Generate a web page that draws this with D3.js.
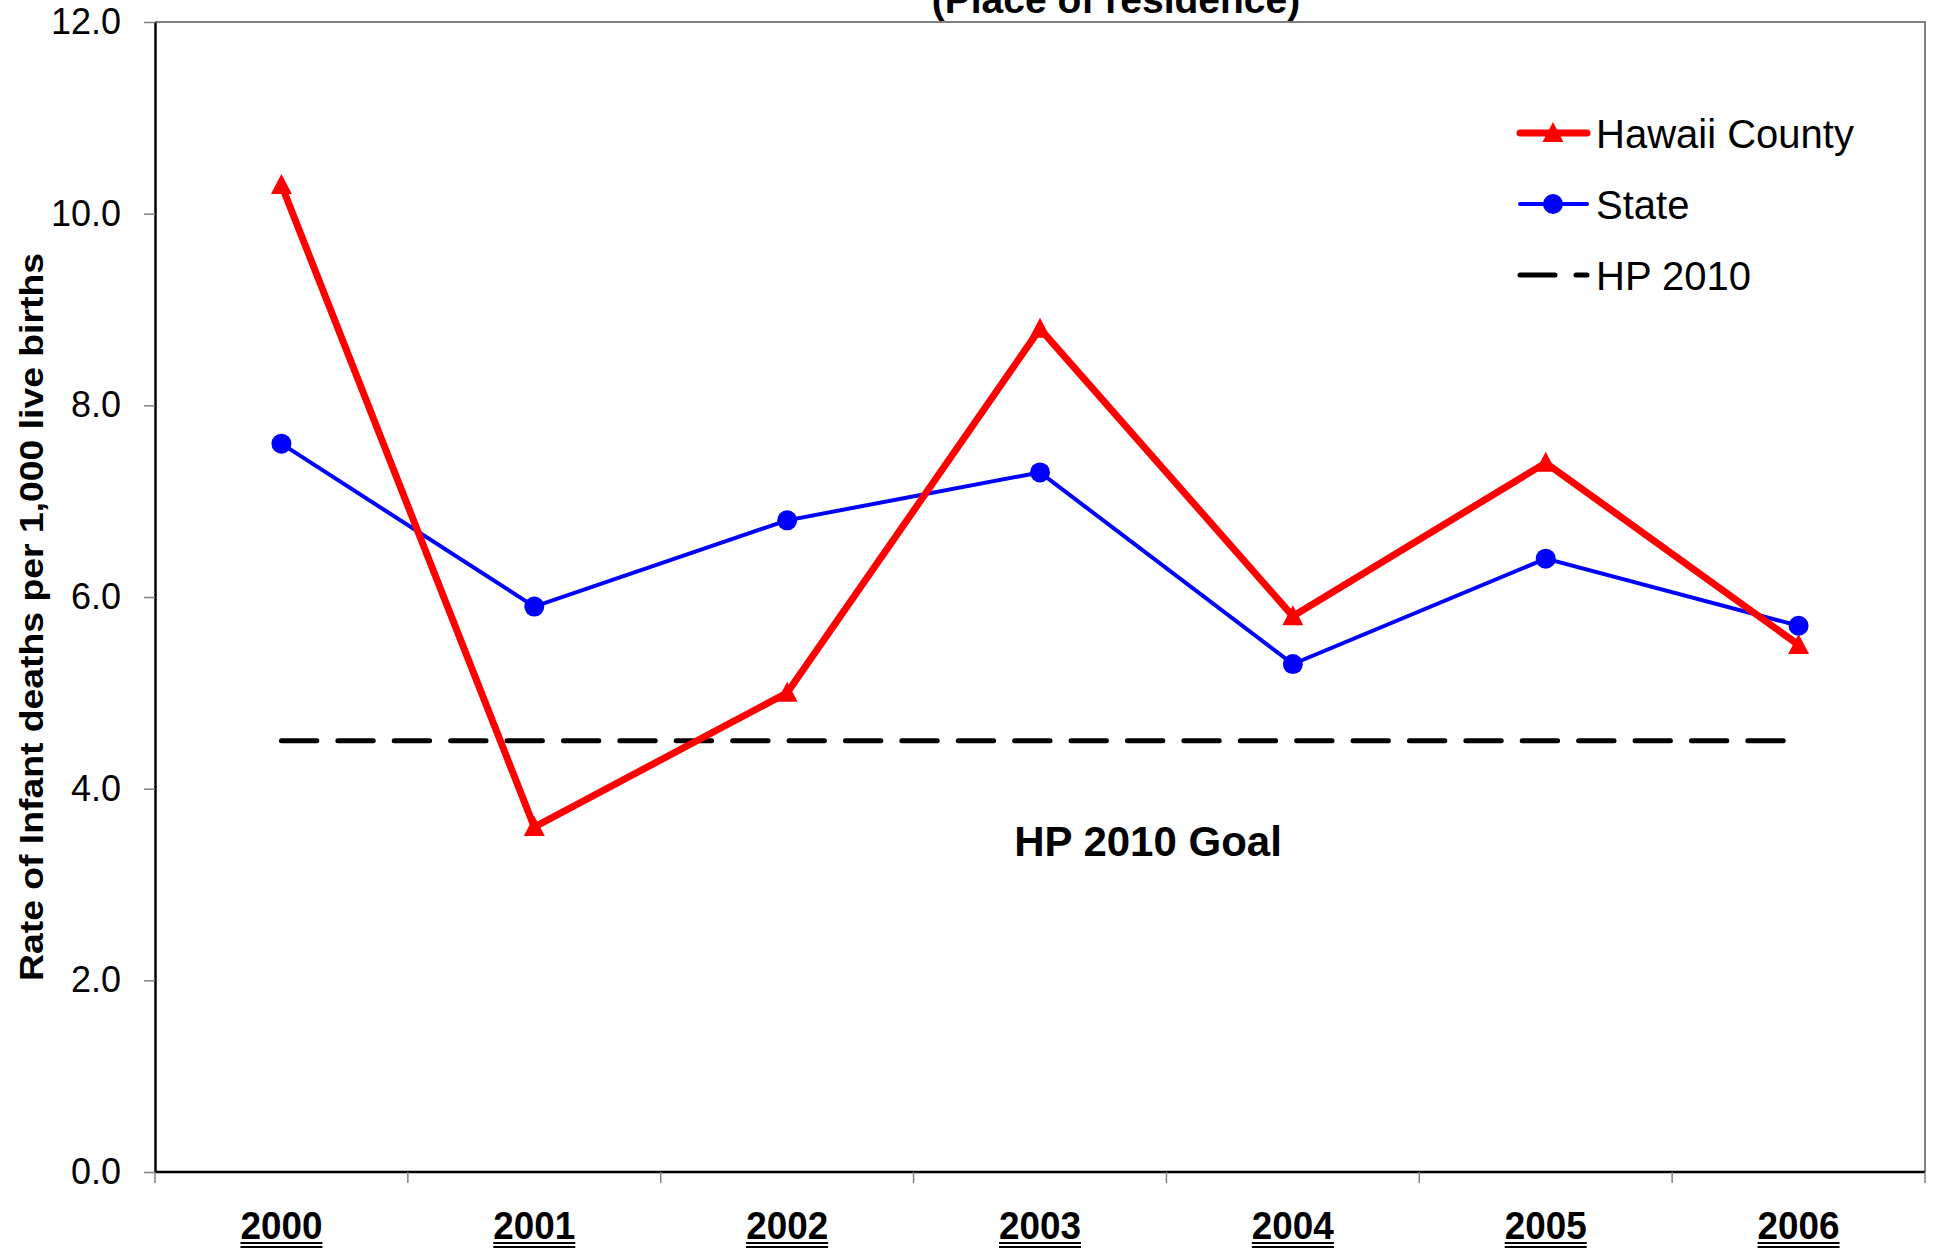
<!DOCTYPE html>
<html>
<head>
<meta charset="utf-8">
<script src="https://cdn.jsdelivr.net/npm/d3@7"></script>
<style>
  body { margin: 0; background: #fff; }
  svg { display: block; font-family: "Liberation Sans", Arial, sans-serif; }
</style>
</head>
<body>
<script>
// data
var years = ["2000", "2001", "2002", "2003", "2004", "2005", "2006"];
var hawaiiCounty = [10.3, 3.6, 5.0, 8.8, 5.8, 7.4, 5.5];
var stateRate = [7.6, 5.9, 6.8, 7.3, 5.3, 6.4, 5.7];
var hp2010 = [4.5, 4.5, 4.5, 4.5, 4.5, 4.5, 4.5];
var yTicks = [0, 2, 4, 6, 8, 10, 12];

var width = 1934, height = 1248;
var margin = { top: 22, right: 9, bottom: 76, left: 155 };

var svg = d3.select("body").append("svg")
    .attr("width", width)
    .attr("height", height);

var x = d3.scaleBand()
    .domain(years)
    .range([margin.left, width - margin.right]);

var y = d3.scaleLinear()
    .domain([0, 12])
    .range([height - margin.bottom, margin.top]);

function cx(d, i) { return x(years[i]) + x.bandwidth() / 2; }

// plot frame (top / right in grey)
svg.append("path")
    .attr("d", "M" + margin.left + "," + y(12) + "H" + (width - margin.right) + "V" + y(0))
    .attr("fill", "none")
    .attr("stroke", "#808080")
    .attr("stroke-width", 2);

// y axis
var yAxis = svg.append("g")
    .attr("transform", "translate(" + margin.left + ",0)")
    .call(d3.axisLeft(y).tickValues(yTicks).tickFormat(d3.format(".1f"))
        .tickSize(11).tickPadding(23).tickSizeOuter(0));
yAxis.select(".domain").attr("stroke", "#000").attr("stroke-width", 2.5);
yAxis.selectAll(".tick line").attr("stroke", "#808080").attr("stroke-width", 1.5);
yAxis.selectAll(".tick text")
    .attr("font-size", 36)
    .attr("font-family", "Liberation Sans, Arial, sans-serif")
    .attr("fill", "#000");

// x axis: ticks between categories
var bottom = y(0);
svg.append("line")
    .attr("x1", margin.left).attr("x2", width - margin.right)
    .attr("y1", bottom).attr("y2", bottom)
    .attr("stroke", "#000").attr("stroke-width", 2.5);

var bounds = years.map(function (d) { return x(d); }).concat([x(years[years.length - 1]) + x.step()]);
svg.selectAll(".xtick")
    .data(bounds)
    .enter().append("line")
    .attr("class", "xtick")
    .attr("x1", function (d) { return d; }).attr("x2", function (d) { return d; })
    .attr("y1", bottom).attr("y2", bottom + 11)
    .attr("stroke", "#808080").attr("stroke-width", 1.5);

var xl = svg.selectAll(".xlab")
    .data(years)
    .enter().append("g")
    .attr("class", "xlab")
    .attr("transform", function (d, i) { return "translate(" + cx(d, i) + ",1239)"; });
xl.append("text")
    .attr("text-anchor", "middle")
    .attr("font-size", 38)
    .attr("font-weight", "bold")
    .attr("textLength", 82)
    .attr("lengthAdjust", "spacingAndGlyphs")
    .text(function (d) { return d; });
[4, 8].forEach(function (off) {
    xl.append("line")
        .attr("x1", -41).attr("x2", 41)
        .attr("y1", off).attr("y2", off)
        .attr("stroke", "#000").attr("stroke-width", 2);
});

// y title
svg.append("text")
    .attr("transform", "translate(43,617) rotate(-90)")
    .attr("text-anchor", "middle")
    .attr("font-size", 34)
    .attr("font-weight", "bold")
    .attr("textLength", 728)
    .attr("lengthAdjust", "spacingAndGlyphs")
    .text("Rate of Infant deaths per 1,000 live births");

// chart title, cut off at the top like the original
svg.append("text")
    .attr("x", 1116)
    .attr("y", 13)
    .attr("text-anchor", "middle")
    .attr("font-size", 39)
    .attr("font-weight", "bold")
    .text("(Place of residence)");

// HP 2010 goal line
var line = d3.line()
    .x(function (d, i) { return cx(d, i); })
    .y(function (d) { return y(d); });

svg.append("path")
    .datum(hp2010)
    .attr("d", line)
    .attr("fill", "none")
    .attr("stroke", "#000")
    .attr("stroke-width", 5)
    .attr("stroke-linecap", "round")
    .attr("stroke-dasharray", "35.4,21");

svg.append("text")
    .attr("x", 1148)
    .attr("y", 856)
    .attr("text-anchor", "middle")
    .attr("font-size", 42)
    .attr("font-weight", "bold")
    .text("HP 2010 Goal");

// State
svg.append("path")
    .datum(stateRate)
    .attr("d", line)
    .attr("fill", "none")
    .attr("stroke", "#0000ff")
    .attr("stroke-width", 4);

// Hawaii County
svg.append("path")
    .datum(hawaiiCounty)
    .attr("d", line)
    .attr("fill", "none")
    .attr("stroke", "#ff0000")
    .attr("stroke-width", 7);

var tri = "M0,-11L10.5,9L-10.5,9Z";

svg.selectAll(".tri")
    .data(hawaiiCounty)
    .enter().append("path")
    .attr("class", "tri")
    .attr("d", tri)
    .attr("fill", "#ff0000")
    .attr("transform", function (d, i) { return "translate(" + cx(d, i) + "," + y(d) + ")"; });

svg.selectAll(".dot")
    .data(stateRate)
    .enter().append("circle")
    .attr("class", "dot")
    .attr("cx", cx)
    .attr("cy", function (d) { return y(d); })
    .attr("r", 10)
    .attr("fill", "#0000ff");

// legend
var legend = [
    { name: "Hawaii County", color: "#ff0000", w: 7, mark: "tri", dash: null, yy: 133 },
    { name: "State", color: "#0000ff", w: 4, mark: "dot", dash: null, yy: 204 },
    { name: "HP 2010", color: "#000", w: 5, mark: null, dash: "35,21", yy: 275 }
];
var lg = svg.selectAll(".lg")
    .data(legend)
    .enter().append("g")
    .attr("class", "lg")
    .attr("transform", function (d) { return "translate(0," + d.yy + ")"; });
lg.append("line")
    .attr("x1", 1520).attr("x2", 1587)
    .attr("stroke", function (d) { return d.color; })
    .attr("stroke-width", function (d) { return d.w; })
    .attr("stroke-linecap", "round")
    .attr("stroke-dasharray", function (d) { return d.dash; });
lg.filter(function (d) { return d.mark === "tri"; })
    .append("path")
    .attr("d", tri)
    .attr("transform", "translate(1553,0)")
    .attr("fill", function (d) { return d.color; });
lg.filter(function (d) { return d.mark === "dot"; })
    .append("circle")
    .attr("cx", 1553).attr("r", 10)
    .attr("fill", function (d) { return d.color; });
lg.append("text")
    .attr("x", 1596)
    .attr("y", 15)
    .attr("font-size", 40)
    .text(function (d) { return d.name; });
</script>
</body>
</html>
